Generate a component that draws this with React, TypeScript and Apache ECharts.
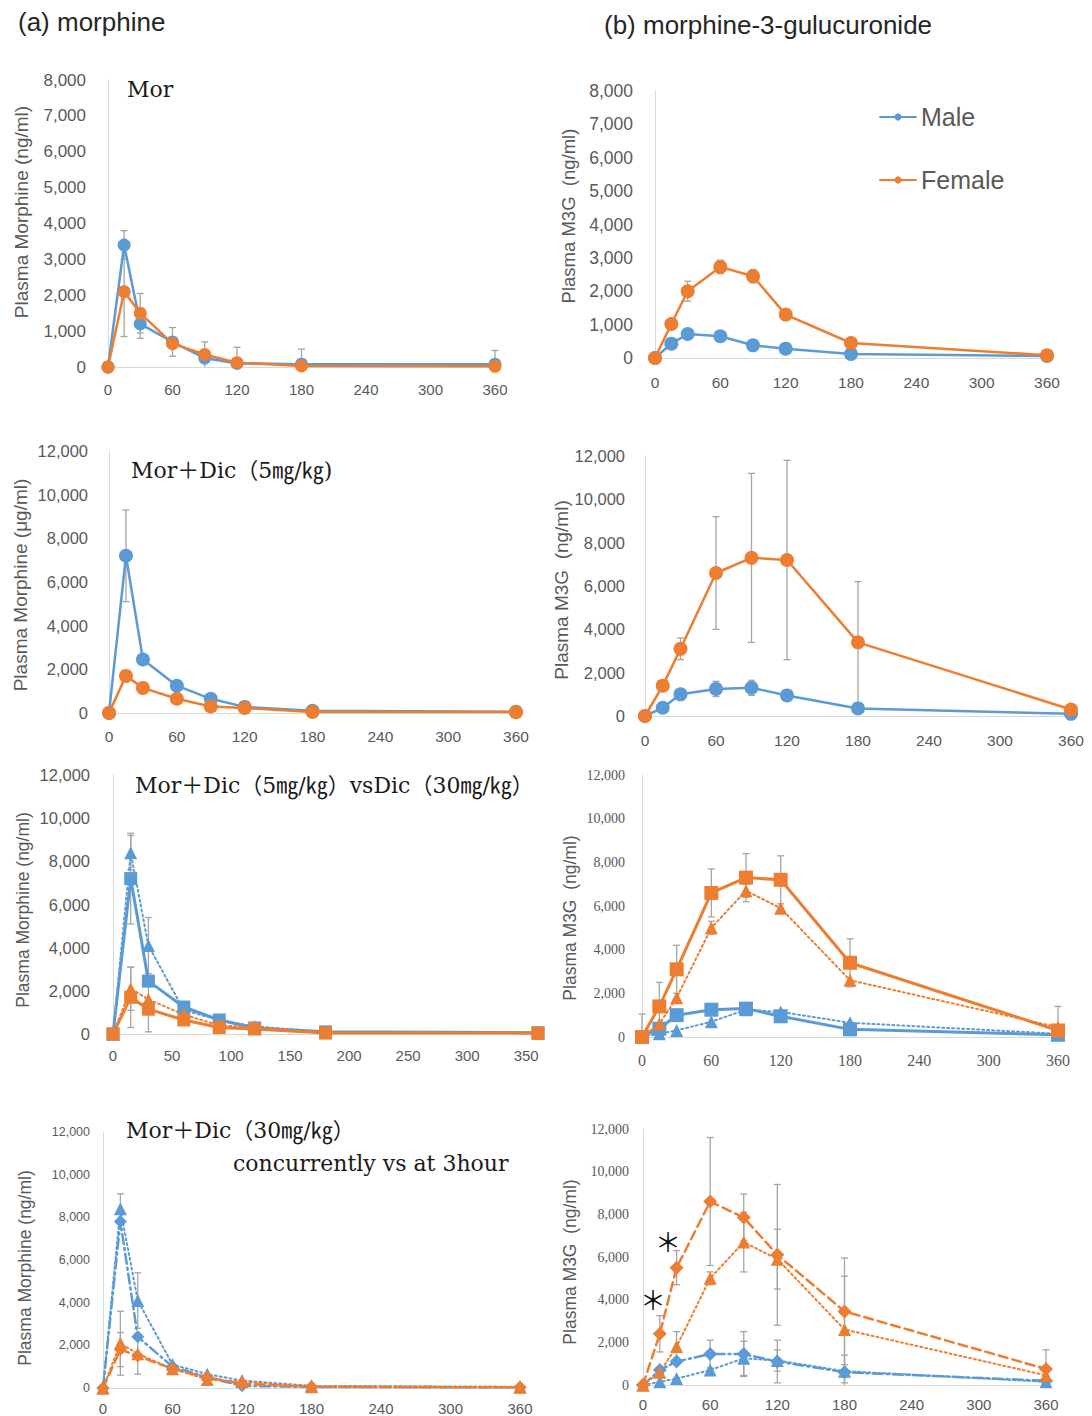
import React, { useEffect, useRef } from "react";
import * as echarts from "echarts";

// Sampling times after dosing (min)
const times = [0, 15, 30, 60, 90, 120, 180, 360];

// Row 1: morphine alone
const morMale = [0, 3400, 1200, 700, 250, 100, 80, 80];
const morMaleSd = [0, 400, 400, 400, 450, 0, 420, 380];
const morFemale = [0, 2100, 1500, 650, 350, 120, 30, 20];
const morFemaleSd = [0, 1250, 550, 0, 0, 430, 0, 0];
const m3gMale = [0, 430, 720, 650, 380, 280, 120, 60];
const m3gMaleSd = [0, 80, 100, 80, 80, 60, 50, 30];
const m3gFemale = [0, 1020, 2000, 2730, 2450, 1300, 450, 80];
const m3gFemaleSd = [0, 80, 300, 200, 200, 100, 150, 50];

// Row 2: morphine + diclofenac 5 mg/kg
const dic5MorMale = [0, 7200, 2450, 1250, 650, 280, 100, 60];
const dic5MorMaleSd = [0, 2100, 0, 0, 0, 0, 0, 0];
const dic5MorFemale = [0, 1700, 1150, 650, 300, 230, 50, 40];
const dic5MorFemaleSd = [0, 0, 0, 0, 0, 0, 0, 0];
const dic5M3gMale = [0, 380, 1000, 1250, 1300, 950, 350, 100];
const dic5M3gMaleSd = [0, 100, 250, 350, 350, 200, 80, 30];
const dic5M3gFemale = [0, 1400, 3100, 6600, 7300, 7200, 3400, 300];
const dic5M3gFemaleSd = [0, 100, 500, 2600, 3900, 4600, 2800, 100];

// Row 3: diclofenac 30 mg/kg given concurrently (compared with 5 mg/kg)
const dic30MorMale = [0, 8400, 4100, 1100, 650, 350, 100, 60];
const dic30MorFemale = [0, 2100, 1600, 900, 400, 300, 60, 40];
const dic30M3gMale = [0, 150, 300, 700, 1250, 1150, 650, 150];
const dic30M3gFemale = [0, 600, 1800, 5000, 6700, 5900, 2600, 450];
const row3MorSqMaleSd = [0, 2100, 0, 0, 0, 0, 0, 0];
const row3MorSqFemaleSd = [0, 1400, 1050, 0, 0, 0, 0, 0];
const row3MorTriMaleSd = [0, 800, 1300, 0, 0, 0, 0, 0];
const row3MorTriFemaleSd = [0, 1000, 0, 0, 0, 0, 0, 0];
const row3M3gSqMaleSd = [0, 0, 0, 0, 0, 0, 0, 0];
const row3M3gSqFemaleSd = [1050, 1100, 1100, 1100, 1100, 1100, 1100, 1100];
const row3M3gTriMaleSd = [0, 0, 0, 0, 0, 0, 0, 0];
const row3M3gTriFemaleSd = [0, 0, 0, 300, 300, 0, 0, 0];

// Row 4: diclofenac 30 mg/kg given at 3 hours (compared with concurrent)
const at3hMorMale = [0, 7800, 2400, 1000, 500, 100, 50, 30];
const at3hMorFemale = [0, 1800, 1500, 900, 500, 200, 60, 30];
const at3hM3gMale = [0, 700, 1100, 1450, 1450, 1100, 600, 200];
const at3hM3gFemale = [0, 2400, 5500, 8600, 7850, 6100, 3450, 750];
const row4MorTriMaleSd = [0, 700, 1300, 0, 0, 0, 0, 0];
const row4MorTriFemaleSd = [0, 1500, 950, 0, 0, 0, 0, 0];
const row4MorDiaMaleSd = [0, 0, 0, 0, 0, 0, 0, 0];
const row4MorDiaFemaleSd = [0, 800, 0, 0, 0, 0, 0, 0];
const row4M3gTriMaleSd = [0, 0, 0, 0, 800, 500, 0, 0];
const row4M3gTriFemaleSd = [0, 0, 700, 300, 1400, 1400, 2500, 0];
const row4M3gDiaMaleSd = [0, 0, 0, 650, 1050, 1000, 800, 0];
const row4M3gDiaFemaleSd = [0, 850, 800, 3000, 1100, 3300, 2500, 900];

const SANS = "'Liberation Sans', Arial, sans-serif";
const SERIF = "'Liberation Serif', 'Times New Roman', serif";
const TITLE_FONT = "'DejaVu Serif', 'Noto Sans CJK JP', serif";
const BLUE = "#5B9BD5";
const ORANGE = "#ED7D31";
const ERR = "#A5A5A5";
const LABEL = "#595959";

type LabelStyle = { size: number; family: string; margin: number };
type Panel = {
  left: number; top: number; width: number; height: number;
  yMax: number; yInterval: number; xInterval: number;
  yLabel: LabelStyle; xLabel: LabelStyle;
};

const panels: Panel[] = [
  { left: 108, top: 80, width: 387, height: 287, yMax: 8000, yInterval: 1000, xInterval: 60,
    yLabel: { size: 17, family: SANS, margin: 22 }, xLabel: { size: 15, family: SANS, margin: 15 } },
  { left: 655, top: 91, width: 392, height: 267, yMax: 8000, yInterval: 1000, xInterval: 60,
    yLabel: { size: 17.5, family: SANS, margin: 22 }, xLabel: { size: 15.5, family: SANS, margin: 16 } },
  { left: 109, top: 451, width: 407, height: 262, yMax: 12000, yInterval: 2000, xInterval: 60,
    yLabel: { size: 16.5, family: SANS, margin: 21 }, xLabel: { size: 15.5, family: SANS, margin: 15 } },
  { left: 645, top: 456, width: 426, height: 260, yMax: 12000, yInterval: 2000, xInterval: 60,
    yLabel: { size: 16.5, family: SANS, margin: 20 }, xLabel: { size: 15.5, family: SANS, margin: 16 } },
  { left: 113, top: 775, width: 425, height: 259, yMax: 12000, yInterval: 2000, xInterval: 50,
    yLabel: { size: 16.5, family: SANS, margin: 23 }, xLabel: { size: 15, family: SANS, margin: 14 } },
  { left: 642, top: 775, width: 416, height: 262, yMax: 12000, yInterval: 2000, xInterval: 60,
    yLabel: { size: 14, family: SERIF, margin: 17 }, xLabel: { size: 16, family: SERIF, margin: 15 } },
  { left: 103, top: 1132, width: 417, height: 257, yMax: 12000, yInterval: 2000, xInterval: 60,
    yLabel: { size: 12.5, family: SANS, margin: 13 }, xLabel: { size: 15, family: SANS, margin: 13 } },
  { left: 643, top: 1129, width: 403, height: 256, yMax: 12000, yInterval: 2000, xInterval: 60,
    yLabel: { size: 14, family: SERIF, margin: 14 }, xLabel: { size: 15, family: SANS, margin: 12 } },
];

const axisTitles = [
  { text: "Plasma Morphine (ng/ml)", x: 21, y: 212, size: 19 },
  { text: "Plasma M3G  (ng/ml)", x: 568, y: 216, size: 18.5 },
  { text: "Plasma Morphine (μg/ml)", x: 20, y: 585, size: 19 },
  { text: "Plasma M3G  (ng/ml)", x: 561, y: 590, size: 19 },
  { text: "Plasma Morphine (ng/ml)", x: 23, y: 910, size: 17.5 },
  { text: "Plasma M3G  (ng/ml)", x: 570, y: 918, size: 17.5 },
  { text: "Plasma Morphine (ng/ml)", x: 25, y: 1268, size: 17.5 },
  { text: "Plasma M3G  (ng/ml)", x: 570, y: 1262, size: 17.5 },
];

const panelTitles = [
  { text: "Mor", x: 127, y: 89 },
  { text: "Mor＋Dic（5㎎/㎏)", x: 131, y: 470 },
  { text: "Mor＋Dic（5㎎/㎏）vsDic（30㎎/㎏）", x: 135, y: 785 },
  { text: "Mor＋Dic（30㎎/㎏）", x: 126, y: 1130 },
  { text: "concurrently vs at 3hour", x: 233, y: 1163 },
];

const fmt = (v: number) => v.toLocaleString("en-US");

function curve(panel: number, name: string, values: number[], color: string,
  symbol: string, dash: any, width: number, size: number) {
  return {
    type: "line", name, xAxisIndex: panel, yAxisIndex: panel,
    data: times.map((t, i) => [t, values[i]]),
    symbol, symbolSize: size, showAllSymbol: true, clip: false, z: 3,
    lineStyle: { color, width, type: dash, cap: "round" },
    itemStyle: { color, borderWidth: 0 },
    emphasis: { disabled: true },
  };
}

function errorBars(panel: number, values: number[], sd: number[]) {
  return {
    type: "custom", xAxisIndex: panel, yAxisIndex: panel, silent: true, z: 2,
    data: times.map((t, i) => [t, values[i], sd[i]]),
    encode: { x: 0, y: 1 },
    renderItem: (_params: any, api: any) => {
      const t = api.value(0), m = api.value(1), s = api.value(2);
      if (!s) return { type: "group", children: [] };
      const lowVal = Math.max(0, m - s);
      const top = api.coord([t, m + s]);
      const bot = api.coord([t, lowVal]);
      const cap = 3.5;
      const style = { stroke: ERR, lineWidth: 1.3 };
      const children: any[] = [
        { type: "line", shape: { x1: top[0], y1: top[1], x2: bot[0], y2: bot[1] }, style },
        { type: "line", shape: { x1: top[0] - cap, y1: top[1], x2: top[0] + cap, y2: top[1] }, style },
      ];
      if (lowVal > 0) {
        children.push({ type: "line", shape: { x1: bot[0] - cap, y1: bot[1], x2: bot[0] + cap, y2: bot[1] }, style });
      }
      return { type: "group", children };
    },
  };
}

const DOT = [2, 3];
const DASH = [9, 5];
const DASH_DOT = [10, 4, 2, 4];

function buildOption() {
  const grid = panels.map((p) => ({ left: p.left, top: p.top, width: p.width, height: p.height, containLabel: false }));
  const xAxis = panels.map((p, i) => ({
    type: "value", gridIndex: i, min: 0, max: 360, interval: p.xInterval,
    axisLine: { show: true, onZero: false, lineStyle: { color: "#D9D9D9", width: 1 } },
    axisTick: { show: false }, splitLine: { show: false },
    axisLabel: { color: LABEL, fontSize: p.xLabel.size, fontFamily: p.xLabel.family, margin: p.xLabel.margin,
      showMaxLabel: p.xInterval === 60 },
  }));
  const yAxis = panels.map((p, i) => ({
    type: "value", gridIndex: i, min: 0, max: p.yMax, interval: p.yInterval,
    axisLine: { show: true, lineStyle: { color: "#D9D9D9", width: 1 } },
    axisTick: { show: false }, splitLine: { show: false },
    axisLabel: { color: LABEL, fontSize: p.yLabel.size, fontFamily: p.yLabel.family, margin: p.yLabel.margin,
      formatter: (v: number) => fmt(v) },
  }));

  const series: any[] = [
    // Row 1
    errorBars(0, morMale, morMaleSd), errorBars(0, morFemale, morFemaleSd),
    curve(0, "Male", morMale, BLUE, "circle", "solid", 2.5, 13),
    curve(0, "Female", morFemale, ORANGE, "circle", "solid", 2.5, 13),
    errorBars(1, m3gMale, m3gMaleSd), errorBars(1, m3gFemale, m3gFemaleSd),
    curve(1, "Male", m3gMale, BLUE, "circle", "solid", 2.5, 14),
    curve(1, "Female", m3gFemale, ORANGE, "circle", "solid", 2.5, 14),
    // Row 2
    errorBars(2, dic5MorMale, dic5MorMaleSd), errorBars(2, dic5MorFemale, dic5MorFemaleSd),
    curve(2, "Male", dic5MorMale, BLUE, "circle", "solid", 2.5, 14),
    curve(2, "Female", dic5MorFemale, ORANGE, "circle", "solid", 2.5, 14),
    errorBars(3, dic5M3gMale, dic5M3gMaleSd), errorBars(3, dic5M3gFemale, dic5M3gFemaleSd),
    curve(3, "Male", dic5M3gMale, BLUE, "circle", "solid", 2.5, 14),
    curve(3, "Female", dic5M3gFemale, ORANGE, "circle", "solid", 2.5, 14),
    // Row 3: squares = Dic 5 mg/kg, triangles = Dic 30 mg/kg
    errorBars(4, dic5MorMale, row3MorSqMaleSd), errorBars(4, dic30MorMale, row3MorTriMaleSd),
    errorBars(4, dic5MorFemale, row3MorSqFemaleSd), errorBars(4, dic30MorFemale, row3MorTriFemaleSd),
    curve(4, "Male Dic30", dic30MorMale, BLUE, "triangle", DOT, 2, 13),
    curve(4, "Male Dic5", dic5MorMale, BLUE, "rect", "solid", 3, 13),
    curve(4, "Female Dic30", dic30MorFemale, ORANGE, "triangle", DOT, 2, 13),
    curve(4, "Female Dic5", dic5MorFemale, ORANGE, "rect", "solid", 3, 13),
    errorBars(5, dic5M3gMale, row3M3gSqMaleSd), errorBars(5, dic30M3gMale, row3M3gTriMaleSd),
    errorBars(5, dic5M3gFemale, row3M3gSqFemaleSd), errorBars(5, dic30M3gFemale, row3M3gTriFemaleSd),
    curve(5, "Male Dic30", dic30M3gMale, BLUE, "triangle", DOT, 2, 13),
    curve(5, "Male Dic5", dic5M3gMale, BLUE, "rect", "solid", 3, 14),
    curve(5, "Female Dic30", dic30M3gFemale, ORANGE, "triangle", DOT, 2, 13),
    curve(5, "Female Dic5", dic5M3gFemale, ORANGE, "rect", "solid", 3, 14),
    // Row 4: triangles = concurrent, diamonds = at 3 hours
    errorBars(6, dic30MorMale, row4MorTriMaleSd), errorBars(6, at3hMorMale, row4MorDiaMaleSd),
    errorBars(6, dic30MorFemale, row4MorTriFemaleSd), errorBars(6, at3hMorFemale, row4MorDiaFemaleSd),
    curve(6, "Male concurrent", dic30MorMale, BLUE, "triangle", DOT, 2, 13),
    curve(6, "Male 3h", at3hMorMale, BLUE, "diamond", DASH_DOT, 2.5, 13),
    curve(6, "Female concurrent", dic30MorFemale, ORANGE, "triangle", DOT, 2, 13),
    curve(6, "Female 3h", at3hMorFemale, ORANGE, "diamond", DASH, 2.5, 13),
    errorBars(7, dic30M3gMale, row4M3gTriMaleSd), errorBars(7, at3hM3gMale, row4M3gDiaMaleSd),
    errorBars(7, dic30M3gFemale, row4M3gTriFemaleSd), errorBars(7, at3hM3gFemale, row4M3gDiaFemaleSd),
    curve(7, "Male concurrent", dic30M3gMale, BLUE, "triangle", DOT, 2, 13),
    curve(7, "Male 3h", at3hM3gMale, BLUE, "diamond", DASH_DOT, 2.5, 14),
    curve(7, "Female concurrent", dic30M3gFemale, ORANGE, "triangle", DOT, 2, 13),
    curve(7, "Female 3h", at3hM3gFemale, ORANGE, "diamond", DASH, 2.5, 14),
  ];

  const graphic: any[] = [
    { type: "text", x: 18, y: 22, style: { text: "(a) morphine", fontSize: 26, fontFamily: SANS, fill: "#262626", verticalAlign: "middle" } },
    { type: "text", x: 604, y: 25, style: { text: "(b) morphine-3-gulucuronide", fontSize: 26, fontFamily: SANS, fill: "#262626", verticalAlign: "middle" } },
    ...axisTitles.map((a) => ({
      type: "text", x: a.x, y: a.y, rotation: Math.PI / 2,
      style: { text: a.text, fontSize: a.size, fontFamily: SANS, fill: LABEL, align: "center", verticalAlign: "middle" },
    })),
    ...panelTitles.map((t) => ({
      type: "text", x: t.x, y: t.y,
      style: { text: t.text, fontSize: 22, fontFamily: TITLE_FONT, fill: "#1a1a1a", verticalAlign: "middle" },
    })),
    { type: "text", x: 653, y: 1298, style: { text: "＊", fontSize: 26, fontFamily: "'Noto Sans CJK JP'", fill: "#111", align: "center", verticalAlign: "middle" } },
    { type: "text", x: 668, y: 1240, style: { text: "＊", fontSize: 26, fontFamily: "'Noto Sans CJK JP'", fill: "#111", align: "center", verticalAlign: "middle" } },
  ];

  return {
    animation: false,
    backgroundColor: "#ffffff",
    grid, xAxis, yAxis, series, graphic,
    legend: {
      data: ["Male", "Female"], orient: "vertical", left: 874, top: 97,
      itemWidth: 36, itemHeight: 9, itemGap: 33,
      textStyle: { fontSize: 25, fontFamily: SANS, color: LABEL, lineHeight: 30 },
      selectedMode: false,
    },
  };
}

export default function App() {
  const ref = useRef<HTMLDivElement>(null);
  useEffect(() => {
    if (!ref.current) return;
    const chart = echarts.init(ref.current, undefined, { renderer: "svg" });
    chart.setOption(buildOption() as any);
    return () => chart.dispose();
  }, []);
  return (
    <div ref={ref}
      style={{ position: "absolute", left: 0, top: 0, width: 1092, height: 1416, background: "#fff" }} />
  );
}
